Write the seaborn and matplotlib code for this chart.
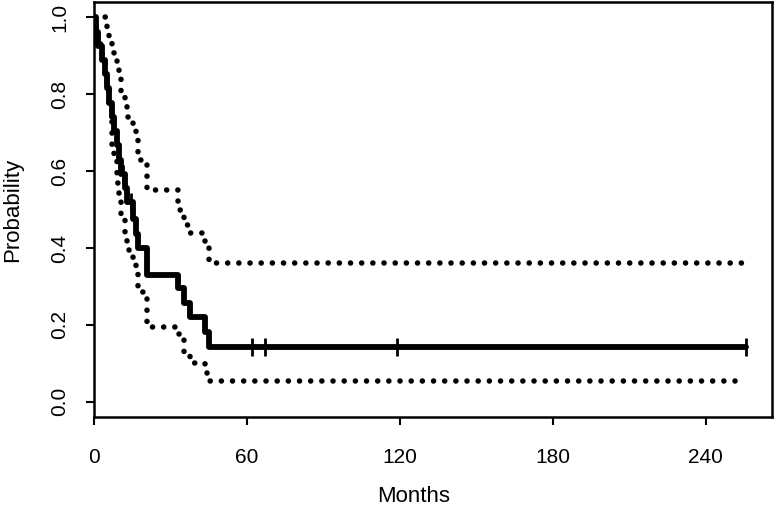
import numpy as np
import pandas as pd
import matplotlib
matplotlib.use("Agg")
import matplotlib.pyplot as plt
import seaborn as sns

# Kaplan-Meier estimate (months, survival, 95% CI)
tempos = [0, 0.8, 1.6, 3.0, 4.2, 5.0, 5.8, 7.0, 8.0, 9.0, 9.8, 10.8, 12.0,
          13.0, 15.5, 16.5, 17.3, 20.8, 33.0, 35.3, 37.5, 43.5, 45.0, 256]
sobrevida = [1.0, 0.963, 0.926, 0.889, 0.852, 0.815, 0.778, 0.741, 0.704,
             0.667, 0.630, 0.593, 0.556, 0.519, 0.475, 0.435, 0.40, 0.33,
             0.296, 0.257, 0.22, 0.18, 0.143, 0.143]
ic_inferior = [1.0, 0.97, 0.93, 0.89, 0.845, 0.81, 0.76, 0.66, 0.63, 0.57,
               0.52, 0.487, 0.43, 0.395, 0.37, 0.34, 0.285, 0.195, 0.175,
               0.13, 0.10, 0.075, 0.055, 0.055]
ic_superior = [1.0, 1.0, 1.0, 1.0, 1.0, 0.97, 0.95, 0.92, 0.895, 0.87, 0.84,
               0.80, 0.77, 0.74, 0.71, 0.685, 0.63, 0.55, 0.50, 0.46, 0.44,
               0.40, 0.36, 0.36]

# censored observations
censura_t = [11.4, 14.5, 62, 67, 119, 256]
censura_s = [0.593, 0.519, 0.143, 0.143, 0.143, 0.143]

df = pd.DataFrame({"Meses": tempos, "S": sobrevida,
                   "Inf": ic_inferior, "Sup": ic_superior})

sns.set_style("ticks")
plt.rcParams["font.family"] = ["Liberation Sans", "DejaVu Sans"]
plt.rcParams["text.color"] = "black"
plt.rcParams["axes.labelcolor"] = "black"

fig = plt.figure(figsize=(7.74, 5.12), dpi=100)
ax = fig.add_subplot(111)
fig.subplots_adjust(left=0.1214, right=0.9974, top=0.9961, bottom=0.1855)

pontilhado = dict(color="black", linewidth=4.0, dashes=(0.01, 2.0),
                  dash_capstyle="round", drawstyle="steps-post",
                  estimator=None, sort=False)
sns.lineplot(data=df, x="Meses", y="Sup", ax=ax, **pontilhado)
sns.lineplot(data=df, x="Meses", y="Inf", ax=ax, **pontilhado)
sns.lineplot(data=df, x="Meses", y="S", ax=ax, color="black", linewidth=4.2,
             drawstyle="steps-post", estimator=None, sort=False)
ax.plot(censura_t, censura_s, linestyle="none", marker="|", color="black",
        markersize=13, markeredgewidth=2)

ax.set_xlim(0, 266)
ax.set_ylim(-0.04, 1.04)
ax.set_xticks([0, 60, 120, 180, 240])
ax.set_yticks([0.0, 0.2, 0.4, 0.6, 0.8, 1.0])
ax.set_yticklabels(["0.0", "0.2", "0.4", "0.6", "0.8", "1.0"],
                   rotation=90, va="center")
ax.tick_params(axis="both", direction="out", length=6, width=1.5,
               labelsize=15, colors="black")
ax.tick_params(axis="x", pad=16)
ax.tick_params(axis="y", pad=12)
for lado in ax.spines.values():
    lado.set_linewidth(1.8)
    lado.set_color("black")

ax.set_xlabel("Months", fontsize=16, color="black")
ax.set_ylabel("Probability", fontsize=16, color="black")
ax.xaxis.set_label_coords(0.472, -0.165)
ax.yaxis.set_label_coords(-0.105, 0.5)

plt.savefig("out.png", dpi=100)
